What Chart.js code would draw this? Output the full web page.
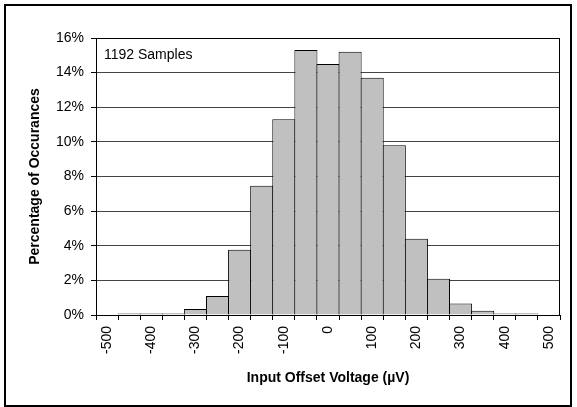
<!DOCTYPE html>
<html>
<head>
<meta charset="utf-8">
<script src="https://cdn.jsdelivr.net/npm/chart.js@4/dist/chart.umd.min.js"></script>
<style>
    html, body { margin: 0; padding: 0; background: #fff; }
    #wrap { position: relative; width: 577px; height: 407px; }
    #frame {
        position: absolute; left: 4px; top: 4px; width: 568px; height: 403px;
        box-sizing: border-box; border: 2px solid #000; pointer-events: none;
    }
    canvas { position: absolute; left: 0; top: 0; }
</style>
</head>
<body>
<div id="wrap">
    <canvas id="chart" width="577" height="407"></canvas>
    <div id="frame"></div>
</div>
<script>
// histogram bins (input offset voltage, uV)
var binCenters = [-500, -450, -400, -350, -300, -250, -200, -150, -100, -50, 0,
                  50, 100, 150, 200, 250, 300, 350, 400, 450, 500];
// percentage of occurances per bin
var percentValues = [0, 0.084, 0.084, 0.084, 0.34, 1.1, 3.77, 7.47, 11.3, 15.3, 14.5,
                     15.2, 13.7, 9.8, 4.4, 2.1, 0.67, 0.25, 0.084, 0.084, 0];
var yTicks = [0, 2, 4, 6, 8, 10, 12, 14, 16];
var sampleNote = '1192 Samples';

Chart.defaults.font.family = '"Liberation Sans", Arial, sans-serif';
Chart.defaults.font.size = 14;
Chart.defaults.color = '#000';

var frameAndNote = {
    id: 'frameAndNote',
    afterDraw: function (chart) {
        var ctx = chart.ctx;
        var a = chart.chartArea;
        ctx.save();
        ctx.strokeStyle = '#000';
        ctx.lineWidth = 1;
        ctx.strokeRect(Math.round(a.left) + 0.5, Math.round(a.top) + 0.5,
            Math.round(a.right - a.left) - 1, Math.round(a.bottom - a.top));
        ctx.fillStyle = '#000';
        ctx.font = '14px "Liberation Sans", Arial, sans-serif';
        ctx.textBaseline = 'alphabetic';
        ctx.fillText(sampleNote, a.left + 8, a.top + 21);
        ctx.restore();
    }
};

var chart = new Chart(document.getElementById('chart').getContext('2d'), {
    type: 'bar',
    data: {
        labels: binCenters,
        datasets: [{
            label: 'Percentage of Occurances',
            data: percentValues,
            backgroundColor: '#c0c0c0',
            borderColor: '#000',
            borderWidth: 1,
            categoryPercentage: 1,
            barPercentage: 1.045
        }]
    },
    options: {
        responsive: false,
        animation: false,
        layout: { padding: { left: 20, top: 38, right: 17, bottom: 20 } },
        plugins: {
            legend: { display: false },
            tooltip: { enabled: false }
        },
        scales: {
            x: {
                offset: true,
                grid: {
                    offset: true,
                    drawOnChartArea: false,
                    drawTicks: true,
                    tickLength: 5,
                    color: '#000'
                },
                border: { display: true, color: '#000' },
                ticks: {
                    autoSkip: false,
                    minRotation: 90,
                    maxRotation: 90,
                    padding: 6,
                    callback: function (value, index) {
                        var v = binCenters[index];
                        return v % 100 === 0 ? String(v) : '';
                    }
                },
                title: {
                    display: true,
                    text: 'Input Offset Voltage (µV)',
                    font: { weight: 'bold', size: 14 },
                    padding: { top: 0, bottom: 0 }
                },
                afterFit: function (scale) { scale.height = 72; }
            },
            y: {
                min: 0,
                max: 16,
                afterBuildTicks: function (scale) {
                    scale.ticks = yTicks.map(function (v) { return { value: v }; });
                },
                grid: {
                    color: '#444',
                    tickColor: '#000',
                    tickLength: 5
                },
                border: { display: true, color: '#000' },
                ticks: {
                    padding: 7,
                    callback: function (v) { return v + '%'; }
                },
                title: {
                    display: true,
                    text: 'Percentage of Occurances',
                    font: { weight: 'bold', size: 14 },
                    padding: { top: 7, bottom: 0 }
                },
                afterFit: function (scale) { scale.width = 76; }
            }
        }
    },
    plugins: [frameAndNote]
});
</script>
</body>
</html>
